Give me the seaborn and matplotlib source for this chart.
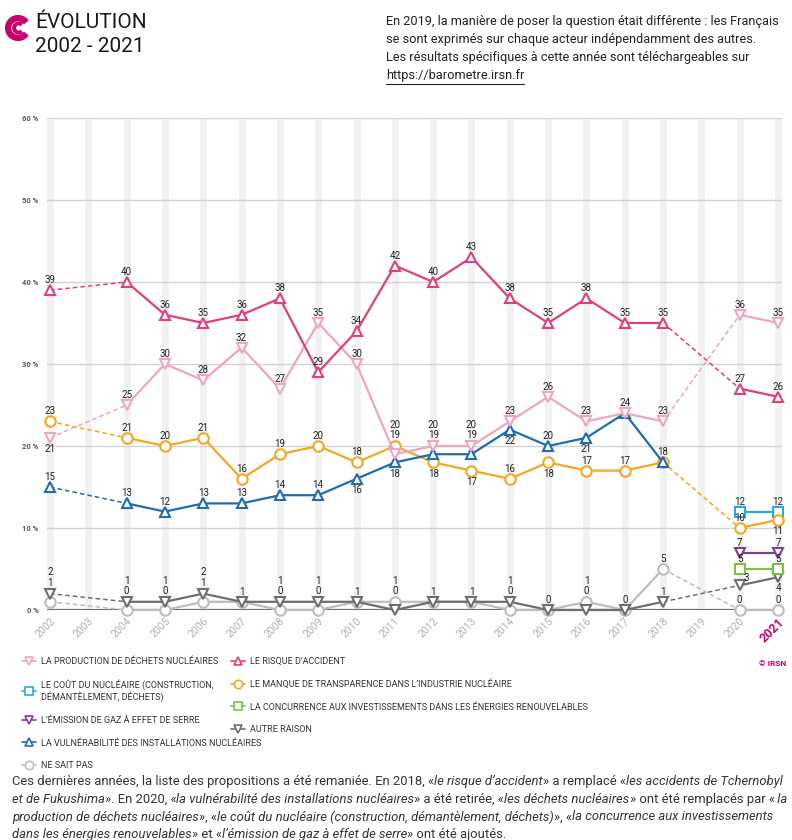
import matplotlib
matplotlib.use("Agg")
import matplotlib.pyplot as plt
import seaborn as sns
from matplotlib.lines import Line2D
from matplotlib.patches import Wedge

# ---- data (None = question not asked that year) ----
years = list(range(2002, 2022))
risque = [39, None, 40, 36, 35, 36, 38, 29, 34, 42, 40, 43, 38, 35, 38, 35, 35, None, 27, 26]
production = [21, None, 25, 30, 28, 32, 27, 35, 30, 19, 20, 20, 23, 26, 23, 24, 23, None, 36, 35]
vulnerabilite = [15, None, 13, 12, 13, 13, 14, 14, 16, 18, 19, 19, 22, 20, 21, 24, 18, None, None, None]
transparence = [23, None, 21, 20, 21, 16, 19, 20, 18, 20, 18, 17, 16, 18, 17, 17, 18, None, 10, 11]
cout = [None] * 18 + [12, 12]
ges = [None] * 18 + [7, 7]
concurrence = [None] * 18 + [5, 5]
autre = [2, None, 1, 1, 2, 1, 1, 1, 1, 0, 1, 1, 1, 0, 0, 0, 1, None, 3, 4]
nsp = [1, None, 0, 0, 1, 1, 0, 0, 1, 1, 1, 1, 0, 0, 1, 0, 5, None, 0, 0]

# key, legend label, values, colour, marker
series = {
    "nsp": ("NE SAIT PAS", nsp, "#bdbdbd", "o"),
    "autre": ("AUTRE RAISON", autre, "#6e6e6e", "v"),
    "conc": ("LA CONCURRENCE AUX INVESTISSEMENTS DANS LES ÉNERGIES RENOUVELABLES", concurrence, "#7cc142", "s"),
    "ges": ("L’ÉMISSION DE GAZ À EFFET DE SERRE", ges, "#7d3f98", "v"),
    "cout": ("LE COÛT DU NUCLÉAIRE (CONSTRUCTION,\nDÉMANTÈLEMENT, DÉCHETS)", cout, "#2aa9dc", "s"),
    "transp": ("LE MANQUE DE TRANSPARENCE DANS L’INDUSTRIE NUCLÉAIRE", transparence, "#f6a623", "o"),
    "vuln": ("LA VULNÉRABILITÉ DES INSTALLATIONS NUCLÉAIRES", vulnerabilite, "#1f6cae", "^"),
    "prod": ("LA PRODUCTION DE DÉCHETS NUCLÉAIRES", production, "#f0a3c3", "v"),
    "risque": ("LE RISQUE D’ACCIDENT", risque, "#e33d7f", "^"),
}

# where the value labels go (default: above the marker)
label_spec = {
    ("prod", 2002): "down", ("prod", 2011): ("stack", 1, "transp"),
    ("prod", 2012): ("stack", 2, "vuln"), ("prod", 2013): ("stack", 2, "vuln"),
    ("prod", 2017): "hide",
    ("vuln", 2010): "down", ("vuln", 2011): "down", ("vuln", 2014): "down", ("vuln", 2016): "down",
    ("vuln", 2012): ("stack", 1, "prod"), ("vuln", 2013): ("stack", 1, "prod"),
    ("transp", 2011): ("stack", 2, "prod"), ("transp", 2012): "down", ("transp", 2013): "down",
    ("transp", 2015): "down", ("transp", 2018): "hide", ("transp", 2021): "down",
    ("autre", 2011): ("stack", 1, "nsp"), ("autre", 2016): ("stack", 1, "nsp"),
    ("autre", 2020): "right", ("autre", 2021): "down",
    ("nsp", 2011): ("stack", 2, "autre"), ("nsp", 2016): ("stack", 2, "autre"),
}
for y in [2002, 2004, 2005, 2006, 2008, 2009, 2014]:
    label_spec[("autre", y)] = ("stack", 2, "nsp")
    label_spec[("nsp", y)] = ("stack", 1, "autre")
for y in [2007, 2010, 2012, 2013, 2015, 2017]:
    label_spec[("nsp", y)] = "hide"

sns.set_theme(style="white")
plt.rcParams["font.family"] = ["Roboto", "DejaVu Sans"]

W, H = 792, 840
fig = plt.figure(figsize=(W / 100, H / 100), dpi=100)

ax = fig.add_axes([47 / W, 1 - 610 / H, (782 - 47) / W, (610 - 118) / H])
step = 728 / 19
ax.set_xlim(2002 - 3 / step, 2021 + 4 / step)
ax.set_ylim(0, 60)

# background year bands and gridlines
ax.bar(years, 60, width=0.21, color="#f1f1f1", zorder=0)
for v in range(10, 61, 10):
    ax.axhline(v, color="#d2d2d2", lw=1, zorder=1)
ax.axhline(0, color="#707070", lw=1.6, zorder=1)


def runs(vals):
    out, cur = [], []
    for yr, v in zip(years, vals):
        if v is None:
            if cur:
                out.append(cur)
            cur = []
        else:
            cur.append((yr, v))
    if cur:
        out.append(cur)
    return out


z = 3
for key, (lab, vals, col, mk) in series.items():
    segs = runs(vals)
    for a, b in zip(segs[:-1], segs[1:]):
        sns.lineplot(x=[a[-1][0], b[0][0]], y=[a[-1][1], b[0][1]], ax=ax, color=col,
                     linestyle=(0, (3, 2)), linewidth=1.1, zorder=z - 0.5)
    for s in segs:
        sns.lineplot(x=[p[0] for p in s], y=[p[1] for p in s], ax=ax, color=col,
                     marker=mk, markersize=7.5 if mk != "s" else 7, markerfacecolor="white",
                     markeredgecolor=col, markeredgewidth=1.5, linewidth=1.6, zorder=z,
                     clip_on=False)
    z += 1

# value labels
for key, (lab, vals, col, mk) in series.items():
    for yr, v in zip(years, vals):
        if v is None:
            continue
        spec = label_spec.get((key, yr), "up")
        if spec == "hide":
            continue
        anchor, dx, dy = v, 0, 7.2
        if spec == "down":
            dy = -8
        elif spec == "right":
            dx, dy = 5, 5
        elif isinstance(spec, tuple):
            other = series[spec[2]][1][years.index(yr)]
            anchor = max(v, other)
            dy = 7.8 if spec[1] == 1 else 15.2
        ax.annotate(str(v), (yr, anchor), xytext=(dx, dy), textcoords="offset points",
                    ha="center", va="center", fontsize=7, color="#222222",
                    zorder=20, annotation_clip=False)

ax.set_xticks(years)
ax.set_xticklabels([str(y) for y in years], rotation=45, ha="right",
                   rotation_mode="anchor", fontsize=7.5, color="#b0b0b0")
last = ax.get_xticklabels()[-1]
last.set_color("#c8006e")
last.set_fontweight("bold")
last.set_fontsize(9)
ax.set_yticks(range(0, 61, 10))
ax.set_yticklabels([f"{v} %" for v in range(0, 61, 10)], fontsize=5.5,
                   fontweight="bold", color="#555555")
ax.tick_params(length=0, axis="y", pad=6)
ax.tick_params(length=0, axis="x", pad=4)
ax.set_xlabel("")
ax.set_ylabel("")
for sp in ax.spines.values():
    sp.set_visible(False)

# ---- header ----
logo = fig.add_axes([5 / W, 1 - 41 / H, 26 / W, 26 / H])
logo.set_xlim(-1, 1)
logo.set_ylim(-1, 1)
logo.set_aspect("equal")
logo.axis("off")
logo.add_patch(Wedge((0, 0), 0.95, 38, 322, width=0.38, color="#c8006e"))
logo.add_patch(Wedge((0.05, 0), 0.45, 55, 305, width=0.2, color="#c8006e"))

fig.text(35 / W, 1 - 23 / H, "ÉVOLUTION", fontsize=15, color="#1a1a1a", va="center")
fig.text(35 / W, 1 - 47 / H, "2002 - 2021", fontsize=15, color="#1a1a1a", va="center")

note_lines = [
    "En 2019, la manière de poser la question était différente : les Français",
    "se sont exprimés sur chaque acteur indépendamment des autres.",
    "Les résultats spécifiques à cette année sont téléchargeables sur",
]
for i, line in enumerate(note_lines):
    fig.text(386 / W, 1 - (21 + 18.3 * i) / H, line, fontsize=9.2, color="#222222", va="center")
link = fig.text(386 / W, 1 - 76 / H, "https://barometre.irsn.fr", fontsize=9.2,
                color="#222222", va="center")
renderer = fig.canvas.get_renderer()
lw = link.get_window_extent(renderer).width
fig.add_artist(Line2D([386 / W, (386 + lw) / W], [1 - 84 / H, 1 - 84 / H],
                      color="#222222", lw=0.8))

# ---- legend ----
def handle(key):
    lab, vals, col, mk = series[key]
    return Line2D([], [], color=col, marker=mk, markersize=6, markerfacecolor="white",
                  markeredgecolor=col, markeredgewidth=1.2, lw=1.2), lab


for keys, x0 in [(["prod", "cout", "ges", "vuln", "nsp"], 22), (["risque", "transp", "conc", "autre"], 231)]:
    hs = [handle(k) for k in keys]
    leg = fig.legend([h[0] for h in hs], [h[1] for h in hs], loc="upper left",
                     bbox_to_anchor=(x0 / W, 1 - 657 / H), frameon=False, fontsize=6.5,
                     handlelength=1.5, handletextpad=0.6, labelspacing=1.5,
                     borderpad=0, borderaxespad=0, labelcolor="#333333")

fig.text(773 / W, 1 - 663 / H, "© IRSN", ha="center", va="center", fontsize=6,
         fontweight="bold", color="#c8006e")

# ---- footnote with italic parts ----
foot = [
    [("Ces dernières années, la liste des propositions a été remaniée. En 2018, «", False),
     ("le risque d’accident", True), ("» a remplacé «", False), ("les accidents de Tchernobyl", True)],
    [("et de Fukushima", True), ("». En 2020, «", False),
     ("la vulnérabilité des installations nucléaires", True), ("» a été retirée, «", False),
     ("les déchets nucléaires", True), ("» ont été remplacés par «", False), (" la", True)],
    [("production de déchets nucléaires", True), ("», «", False),
     ("le coût du nucléaire (construction, démantèlement, déchets)", True), ("», «", False),
     ("la concurrence aux investissements", True)],
    [("dans les énergies renouvelables", True), ("» et «", False),
     ("l’émission de gaz à effet de serre", True), ("» ont été ajoutés.", False)],
]


def seg_width(s, **kw):
    t = fig.text(0, 0, "|" + s + "|", **kw)
    w = t.get_window_extent(renderer).width
    t.remove()
    t = fig.text(0, 0, "||", **kw)
    w -= t.get_window_extent(renderer).width
    t.remove()
    return w


def kw_for(ital, fs):
    return dict(fontsize=fs, color="#333333", style="italic" if ital else "normal")


# fit the longest footnote line into the 12..786 px band
widest = max(sum(seg_width(t, **kw_for(i, 10)) for t, i in line) for line in foot)
foot_fs = min(9.6, 10 * 774 / widest)

for i, line in enumerate(foot):
    x = 12
    ypos = 1 - (782 + 17.5 * i) / H
    for txt, ital in line:
        kw = kw_for(ital, foot_fs)
        fig.text(x / W, ypos, txt, va="center", **kw)
        x += seg_width(txt, **kw)

fig.savefig("out.png", dpi=100)
